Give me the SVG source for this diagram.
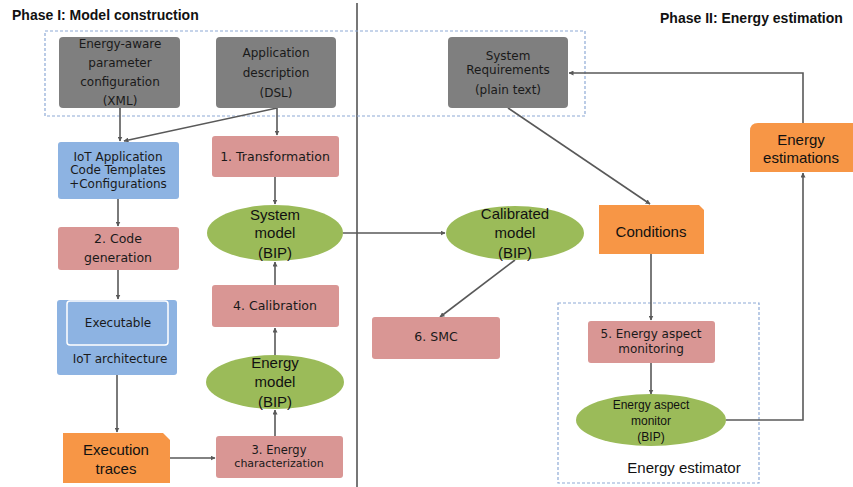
<svg xmlns="http://www.w3.org/2000/svg" width="853" height="487" viewBox="0 0 853 487">
<style>
.gray{fill:#7f7f7f}
.pink{fill:#d99694}
.blue{fill:#8db3e2}
.green{fill:#9bbb59}
.orange{fill:#f79646}
.dash{fill:none;stroke:#8eaad6;stroke-width:1.2;stroke-dasharray:3 2}
.v{font-family:"DejaVu Sans",Verdana,sans-serif;font-size:12px;fill:#1a1a1a;text-anchor:middle}
.c{font-family:"Liberation Sans",Arial,sans-serif;font-size:15px;fill:#111;text-anchor:middle}
.title{font-family:"Liberation Sans",Arial,sans-serif;font-size:14px;font-weight:bold;fill:#111}
.conn path{fill:none;stroke:#595959;stroke-width:1.6;marker-end:url(#ah)}
</style>
<defs>
<marker id="ah" viewBox="0 0 10 10" refX="9" refY="5" markerWidth="5" markerHeight="5" orient="auto" markerUnits="userSpaceOnUse">
<path d="M0,0 L10,5 L0,10 z" fill="#595959"/>
</marker>
</defs>
<rect width="853" height="487" fill="#fff"/>

<text class="title" x="12" y="20">Phase I: Model construction</text>
<text class="title" x="660" y="23">Phase II: Energy estimation</text>
<line x1="357" y1="3" x2="357" y2="487" stroke="#555" stroke-width="1.6"/>

<rect class="dash" x="45" y="31" width="540" height="85"/>
<rect class="dash" x="558" y="303" width="201" height="180"/>
<text class="c" x="684" y="473">Energy estimator</text>

<g class="conn">
<path d="M120,108 V141"/>
<path d="M277,108 L124,141"/>
<path d="M277,108 V135"/>
<path d="M275,177 V204"/>
<path d="M118,199 V226"/>
<path d="M118,270 V299"/>
<path d="M117,375 V432"/>
<path d="M170,458 H215"/>
<path d="M275,436 V410"/>
<path d="M275,355 V328"/>
<path d="M275,285 V262"/>
<path d="M343,233 H445"/>
<path d="M515,260 L440,317"/>
<path d="M508,108 L650,204"/>
<path d="M651,254 V320"/>
<path d="M651,363 V394"/>
<path d="M726,420 H803 V173"/>
<path d="M803,123 V73 H569"/>
</g>

<g id="energy-aware">
<rect class="gray" x="59" y="37" width="121" height="71" rx="4"/>
<text class="v" x="120" y="48">Energy-aware</text>
<text class="v" x="120" y="67">parameter</text>
<text class="v" x="120" y="86">configuration</text>
<text class="v" x="120" y="105">(XML)</text>
</g>
<g id="app-desc">
<rect class="gray" x="216" y="37" width="120" height="71" rx="4"/>
<text class="v" x="276" y="57">Application</text>
<text class="v" x="276" y="77">description</text>
<text class="v" x="276" y="97">(DSL)</text>
</g>
<g id="sys-req">
<rect class="gray" x="448" y="37" width="120" height="71" rx="4"/>
<text class="v" x="508" y="60">System</text>
<text class="v" x="508" y="74">Requirements</text>
<text class="v" x="508" y="94">(plain text)</text>
</g>
<g id="iot-templates">
<rect class="blue" x="58" y="142" width="121" height="57" rx="3"/>
<text class="v" x="118" y="161">IoT Application</text>
<text class="v" x="118" y="174">Code Templates</text>
<text class="v" x="118" y="188">+Configurations</text>
</g>
<g id="transformation">
<rect class="pink" x="212" y="136" width="127" height="41" rx="3"/>
<text class="v" x="275" y="161" style="font-size:12.5px">1. Transformation</text>
</g>
<g id="system-model">
<ellipse class="green" cx="275" cy="233" rx="68" ry="28"/>
<text class="c" x="275" y="220">System</text>
<text class="c" x="275" y="238">model</text>
<text class="c" x="275" y="258">(BIP)</text>
</g>
<g id="code-gen">
<rect class="pink" x="58" y="227" width="121" height="43" rx="3"/>
<text class="v" x="118" y="243" style="font-size:12.5px">2. Code</text>
<text class="v" x="118" y="262" style="font-size:12.5px">generation</text>
</g>
<g id="calibration">
<rect class="pink" x="212" y="285" width="127" height="42" rx="3"/>
<text class="v" x="275" y="310" style="font-size:12.5px">4. Calibration</text>
</g>
<g id="iot-arch">
<rect class="blue" x="57" y="300" width="120" height="75" rx="3"/>
<rect x="67" y="301" width="101" height="44" rx="3" fill="none" stroke="#fff" stroke-width="1.5"/>
<text class="v" x="118" y="327">Executable</text>
<text class="v" x="120" y="363">IoT architecture</text>
</g>
<g id="energy-model">
<ellipse class="green" cx="275" cy="382" rx="69" ry="27"/>
<text class="c" x="275" y="368">Energy</text>
<text class="c" x="275" y="387">model</text>
<text class="c" x="275" y="407">(BIP)</text>
</g>
<g id="exec-traces">
<path class="orange" d="M63,433 H163 L170,440 V483 H63 Z"/>
<text class="c" x="116" y="455">Execution</text>
<text class="c" x="116" y="474">traces</text>
</g>
<g id="energy-char">
<rect class="pink" x="216" y="436" width="127" height="42" rx="3"/>
<text class="v" x="279" y="454" style="font-size:11.5px">3. Energy</text>
<text class="v" x="279" y="467" style="font-size:11px">characterization</text>
</g>
<g id="calibrated-model">
<ellipse class="green" cx="515" cy="233" rx="69" ry="27"/>
<text class="c" x="515" y="219">Calibrated</text>
<text class="c" x="515" y="238">model</text>
<text class="c" x="515" y="258">(BIP)</text>
</g>
<g id="smc">
<rect class="pink" x="372" y="317" width="128" height="42" rx="3"/>
<text class="v" x="436" y="341" style="font-size:12.5px">6. SMC</text>
</g>
<g id="conditions">
<path class="orange" d="M599,205 H699 L704,210 V254 H599 Z"/>
<text class="c" x="651" y="237">Conditions</text>
</g>
<g id="energy-monitoring">
<rect class="pink" x="588" y="321" width="127" height="42" rx="3"/>
<text class="v" x="651" y="338">5. Energy aspect</text>
<text class="v" x="651" y="353">monitoring</text>
</g>
<g id="energy-monitor">
<ellipse class="green" cx="651" cy="420" rx="75" ry="26"/>
<text class="c" x="651" y="409" style="font-size:12px">Energy aspect</text>
<text class="c" x="651" y="425" style="font-size:12px">monitor</text>
<text class="c" x="651" y="441" style="font-size:12px">(BIP)</text>
</g>
<g id="energy-estimations">
<path class="orange" d="M750,172 V131 Q750,123 758,123 H853 V172 Z"/>
<text class="c" x="801" y="145">Energy</text>
<text class="c" x="801" y="163">estimations</text>
</g>
</svg>
